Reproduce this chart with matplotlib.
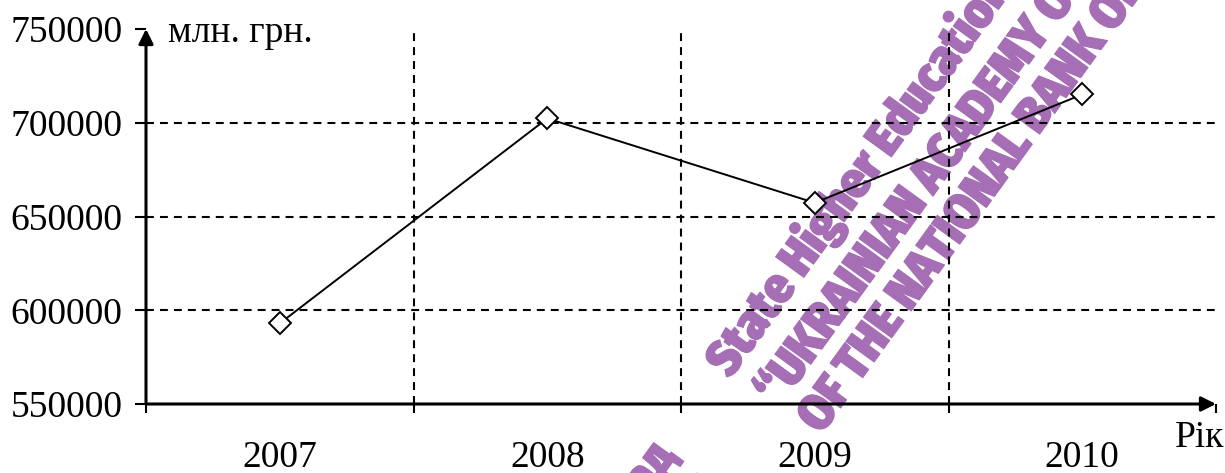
import matplotlib
matplotlib.use("Agg")
import matplotlib.pyplot as plt
from matplotlib import font_manager, patheffects
from matplotlib.ft2font import FT2Font

# yearly totals, mln UAH
years = ["2007", "2008", "2009", "2010"]
values = [593000, 702300, 657300, 715100]
y_ticks = [550000, 600000, 650000, 700000, 750000]
grid_levels = [600000, 650000, 700000]
y_unit = "млн. грн."
x_unit = "Рік"

stamp_en = ["State Higher Education Institution",
            "\u201cUKRAINIAN ACADEMY OF BANKING",
            "OF THE NATIONAL BANK OF UKRAINE\u201d"]
stamp_ua = ["Державний вищий навчальний заклад",
            "\u00abУкраїнська академія банківської справи"]

W, H = 1225, 473
plt.rcParams["font.family"] = ["Liberation Serif", "DejaVu Serif"]


def fig_xy(px, py):
    return px / W, 1 - py / H


def stamp_font():
    """Heavy condensed sans with Cyrillic, whatever is installed."""
    def score(name):
        if "extracond" in name or "ultracond" in name:
            width = 0
        elif "semicond" in name:
            width = 1
        else:
            width = 2
        if "black" in name or "heavy" in name:
            weight = 3
        elif "extrabold" in name:
            weight = 2.5
        elif "semibold" in name:
            weight = 1
        elif "bold" in name:
            weight = 2
        else:
            weight = 0
        return 2 * width + weight - (0.5 if "dejavu" in name else 0)

    best, best_score = None, -1
    for f in font_manager.fontManager.ttflist:
        name = f.fname.rsplit("/", 1)[-1].lower()
        if not any(k in name for k in ("cond", "narrow")):
            continue
        if any(k in name for k in ("light", "thin", "italic", "oblique")):
            continue
        try:
            if ord("Д") not in FT2Font(f.fname).get_charmap():
                continue
        except Exception:
            continue
        if score(name) > best_score:
            best, best_score = f.fname, score(name)
    if best:
        return font_manager.FontProperties(fname=best, size=34)
    return font_manager.FontProperties(family="DejaVu Sans", weight="bold", size=34)


fig = plt.figure(figsize=(W / 100, H / 100), dpi=100)
ax = fig.add_axes([146 / W, 1 - 404 / H, 1070 / W, 375 / H])
ax.patch.set_visible(False)
xs = [i + 0.5 for i in range(len(years))]
ax.set_xlim(0, len(years))
ax.set_ylim(y_ticks[0], y_ticks[-1])
for s in ax.spines.values():
    s.set_visible(False)

dash = (0, (3.8, 2.9))
for lv in grid_levels:
    ax.axhline(lv, color="black", lw=1.5, ls=dash, zorder=1)
for b in range(1, len(years)):
    ax.axvline(b, color="black", lw=1.5, ls=dash, zorder=1)

ax.plot(xs, values, color="black", lw=1.4, marker="D", ms=11,
        mfc="white", mec="black", mew=1.4, zorder=3)

# axis lines with arrow heads
arrow = dict(arrowstyle="-|>", color="black", lw=2.2, mutation_scale=22,
             shrinkA=0, shrinkB=0)
ax.annotate("", xy=(1, 0), xytext=(0, 0), xycoords="axes fraction", arrowprops=arrow)
ax.annotate("", xy=(0, 1), xytext=(0, 0), xycoords="axes fraction", arrowprops=arrow)

ax.set_yticks(y_ticks)
ax.set_yticklabels([str(v) for v in y_ticks])
ax.tick_params(axis="y", length=8, width=1.5, pad=9, labelsize=27)
ax.set_xticks(range(len(years) + 1))
ax.set_xticklabels([])
ax.set_xticks(xs, years, minor=True)
ax.tick_params(axis="x", which="major", length=6.5, width=1.5)
ax.tick_params(axis="x", which="minor", length=0, pad=26, labelsize=27)

fig.text(*fig_xy(168, 42), y_unit, fontsize=27, ha="left", va="baseline")
fig.text(*fig_xy(1175, 447), x_unit, fontsize=27, ha="left", va="baseline")

# stamp lettering sits behind the chart; size it so the first line's
# "State Higher Educatio" runs about 455 px
fp = stamp_font()
probe = fig.text(0, 0, "State Higher Educatio", fontproperties=fp)
span = probe.get_window_extent(fig.canvas.get_renderer()).width
probe.remove()
fp.set_size(fp.get_size() * 455 / span)

stamp_color = "#a66fb5"
wm = dict(fontproperties=fp, color=stamp_color, rotation=54,
          rotation_mode="anchor", va="baseline", zorder=-1,
          path_effects=[patheffects.withStroke(linewidth=0.8, foreground=stamp_color)])
for (px, py), line in zip([(730, 379), (779, 408), (821, 435)], stamp_en):
    fig.text(*fig_xy(px, py), line, ha="left", **wm)
for (px, py), line in zip([(677, 456), (720, 487)], stamp_ua):
    fig.text(*fig_xy(px, py), line, ha="right", **wm)

fig.savefig("out.png", dpi=100)
